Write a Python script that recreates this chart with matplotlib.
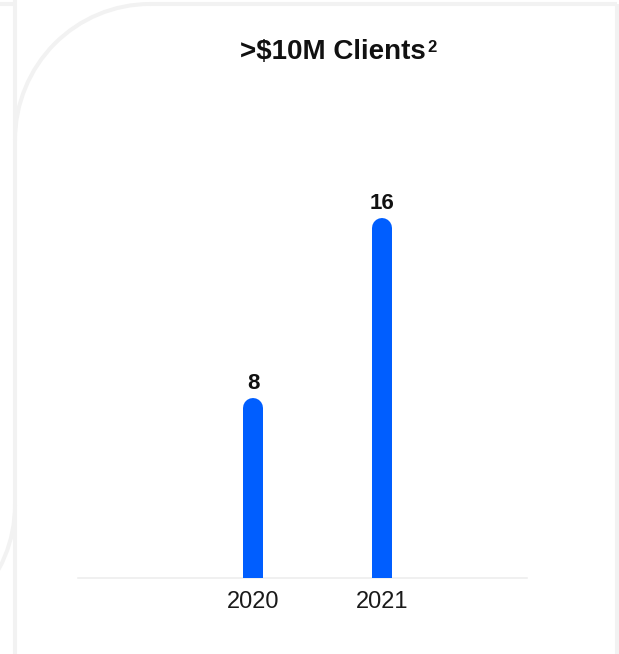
import matplotlib
matplotlib.use("Agg")
import matplotlib.pyplot as plt
from matplotlib.patches import Arc
import numpy as np

plt.rcParams["font.family"] = ["Liberation Sans", "DejaVu Sans"]

# data
years = ["2020", "2021"]
clients = [8, 16]
title = ">$10M Clients"
title_note = "2"

BLUE = "#005EFF"
CARD = "#f2f2f2"

W, H = 619, 654
fig = plt.figure(figsize=(W / 100, H / 100), dpi=100)
fig.patch.set_facecolor("white")

# -----------------------------------------
# background card outlines (pixel coords, y down)
# -----------------------------------------
bg = fig.add_axes([0, 0, 1, 1], zorder=0)
bg.set_xlim(0, W)
bg.set_ylim(H, 0)
bg.axis("off")

lw_card = 2.9
bg.plot([15, 15], [0, H], color=CARD, lw=lw_card, solid_capstyle="butt")
bg.plot([0, 15], [4, 4], color=CARD, lw=lw_card, solid_capstyle="butt")
bg.plot([150, 617], [4, 4], color=CARD, lw=lw_card, solid_capstyle="butt")
bg.plot([617, 617], [4, H], color=CARD, lw=lw_card, solid_capstyle="butt")
bg.add_patch(Arc((150, 140), 270, 272, theta1=180, theta2=270,
                 color=CARD, lw=lw_card))
bg.add_patch(Arc((-120, 505), 270, 270, theta1=0, theta2=90,
                 color=CARD, lw=lw_card))

# -----------------------------------------
# main chart
# -----------------------------------------
ax_left, ax_right = 78, 527
ax_bottom, ax_top = 578, 128
ax = fig.add_axes([ax_left / W, (H - ax_bottom) / H,
                   (ax_right - ax_left) / W, (ax_bottom - ax_top) / H],
                  zorder=1)
ax.patch.set_alpha(0)

x = np.arange(len(years))
ymax = 20.0
ax.set_ylim(0, ymax)
ax.set_xlim(-1.357, 2.124)

# bars with rounded tops: thick lines with round caps, clipped at the baseline
bar_px = 20
r_data = (bar_px / 2) / (ax_bottom - ax_top) * ymax
ax.vlines(x, -2, np.array(clients) - r_data, colors=BLUE,
          linewidth=bar_px * 0.72, capstyle="round", zorder=3)

for xi, v in zip(x, clients):
    ax.annotate(str(v), (xi, v), xytext=(0, 3), textcoords="offset points",
                ha="center", va="bottom", fontsize=16, fontweight="bold",
                color="#111111")

ax.set_xticks(x)
ax.set_xticklabels(years, fontsize=17, color="#1a1a1a")
ax.tick_params(axis="x", length=0, pad=9)
ax.set_yticks([])
for s in ["top", "right", "left"]:
    ax.spines[s].set_visible(False)
ax.spines["bottom"].set_color("#eeeeee")
ax.spines["bottom"].set_linewidth(1.2)

t = fig.text(333 / W, 1 - 52 / H, title, ha="center", va="center",
             fontsize=20, fontweight="bold", color="#111111")
ax.annotate(title_note, xy=(1, 1), xycoords=t, xytext=(1, -1),
            textcoords="offset points", ha="left", va="top",
            fontsize=12, fontweight="bold", color="#111111")

fig.savefig("out.png", dpi=100, facecolor="white")
